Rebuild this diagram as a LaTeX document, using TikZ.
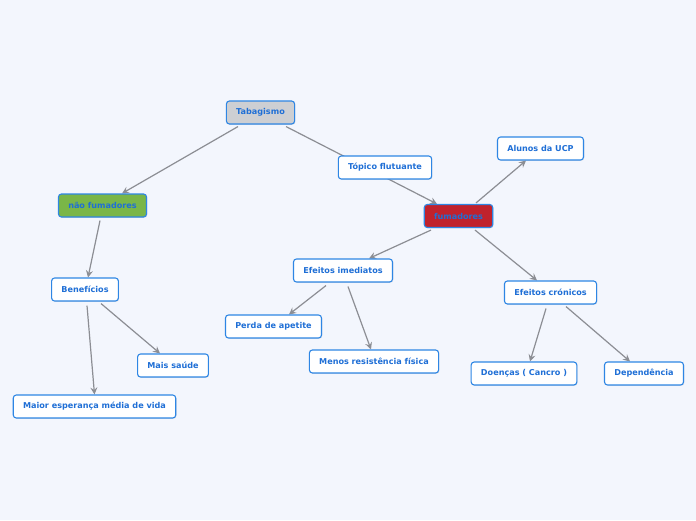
\documentclass[tikz,border=0pt]{standalone}
\usepackage{fontspec}
\setmainfont{DejaVu Sans}
\usepackage{xcolor}
\usetikzlibrary{arrows.meta,shadows}

\definecolor{bgmap}{HTML}{F3F6FD}
\definecolor{edgeblue}{HTML}{2E86E4}
\definecolor{textblue}{HTML}{1F6FD6}
\definecolor{linegray}{HTML}{8C8E94}
\definecolor{nfgreen}{HTML}{7AB648}
\definecolor{fumred}{HTML}{C0222D}
\definecolor{tabgray}{HTML}{CDCFD3}

\pgfdeclarelayer{background}
\pgfsetlayers{background,main}

\tikzset{
  topic/.style={draw=edgeblue, line width=1.1pt, fill=white, rounded corners=3pt,
    text=textblue, font=\fontsize{8.1}{9}\selectfont\bfseries,
    minimum height=23pt, inner xsep=9.8pt, inner ysep=0pt,
    drop shadow={opacity=0.18, shadow xshift=0.8pt, shadow yshift=-0.8pt}},
  link/.style={draw=linegray, line width=1.2pt, -{Stealth[length=7pt,width=7pt,inset=2.5pt]}}
}

\begin{document}
\begin{tikzpicture}[x=1pt,y=-1pt]
    \begin{pgfonlayer}{background}
    \fill[bgmap] (0,0) rectangle (696,520);
    \end{pgfonlayer}
    \useasboundingbox (0,0) rectangle (696,520);

    % main topics
    \node[topic, fill=tabgray] (tab) at (260.5,112.5) {Tabagismo};
    \node[topic] (flut) at (385,167.5) {Tópico flutuante};
    \node[topic, fill=nfgreen] (nf) at (102.5,205.5) {não fumadores};
    \node[topic, fill=fumred] (fum) at (458.5,216) {fumadores};
    \node[topic] (ucp) at (540.5,148.5) {Alunos da UCP};

    \node[topic] (ben) at (85,289.5) {Benefícios};
    \node[topic] (saude) at (173,365.5) {Mais saúde};
    \node[topic] (vida) at (94.5,406.5) {Maior esperança média de vida};

    \node[topic] (imed) at (343,270.5) {Efeitos imediatos};
    \node[topic] (apet) at (273.5,326.5) {Perda de apetite};
    \node[topic] (resis) at (374,361.5) {Menos resistência física};

    \node[topic] (cron) at (550.5,292.5) {Efeitos crónicos};
    \node[topic] (cancro) at (524,373.5) {Doenças ( Cancro )};
    \node[topic] (dep) at (644,373.5) {Dependência};

    \begin{pgfonlayer}{background}
    \draw[link] ([xshift=-22.5pt,yshift=-2pt]tab.south) -- ([xshift=19.5pt]nf.north);
    \draw[link] ([xshift=25.5pt,yshift=-2pt]tab.south) -- ([xshift=-21.5pt]fum.north);
    \draw[link] ([xshift=17.5pt,yshift=1pt]fum.north) -- ([xshift=-14.5pt]ucp.south);
    \draw[link] ([xshift=-27.5pt,yshift=-2pt]fum.south) -- ([xshift=26pt]imed.north);
    \draw[link] ([xshift=16.5pt,yshift=-2pt]fum.south) -- ([xshift=-13.5pt]cron.north);

    \draw[link] ([xshift=-2.5pt,yshift=-3pt]nf.south) -- ([xshift=3pt]ben.north);
    \draw[link] ([xshift=16pt,yshift=-2pt]ben.south) -- ([xshift=-13pt]saude.north);
    \draw[link] ([xshift=2pt,yshift=-4pt]ben.south) -- (vida.north);

    \draw[link] ([xshift=-17pt,yshift=-3pt]imed.south) -- ([xshift=15.5pt]apet.north);
    \draw[link] ([xshift=5pt,yshift=-4pt]imed.south) -- ([xshift=-3pt]resis.north);

    \draw[link] ([xshift=-4.5pt,yshift=-4pt]cron.south) -- ([xshift=6pt]cancro.north);
    \draw[link] ([xshift=15.5pt,yshift=-2pt]cron.south) -- ([xshift=-14pt]dep.north);
    \end{pgfonlayer}
\end{tikzpicture}
\end{document}
